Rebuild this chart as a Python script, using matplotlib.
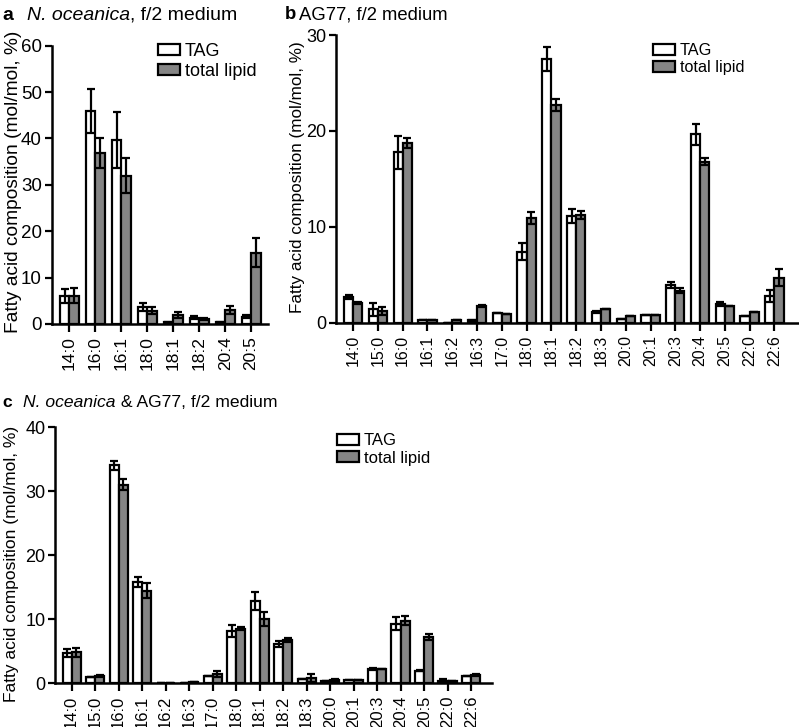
import numpy as np
import matplotlib
matplotlib.use("Agg")
import matplotlib.pyplot as plt

plt.rcParams['font.family'] = ['Liberation Sans', 'DejaVu Sans']

# panel a: N. oceanica
fa_a = ['14:0', '16:0', '16:1', '18:0', '18:1', '18:2', '20:4', '20:5']
tag_a = [6.1, 45.9, 39.7, 3.6, 0.4, 1.4, 0.4, 1.6]
tag_a_err = [1.5, 4.7, 6.0, 0.9, 0.1, 0.3, 0.1, 0.35]
tl_a = [6.1, 36.9, 32.0, 2.9, 2.0, 1.15, 3.0, 15.4]
tl_a_err = [1.6, 3.3, 3.7, 0.7, 0.65, 0.2, 0.95, 3.1]

# panel b: AG77
fa_b = ['14:0', '15:0', '16:0', '16:1', '16:2', '16:3', '17:0', '18:0', '18:1',
        '18:2', '18:3', '20:0', '20:1', '20:3', '20:4', '20:5', '22:0', '22:6']
tag_b = [2.7, 1.4, 17.75, 0.28, 0.0, 0.25, 1.0, 7.4, 27.5,
         11.1, 1.15, 0.35, 0.77, 3.9, 19.65, 1.95, 0.74, 2.8]
tag_b_err = [0.2, 0.7, 1.7, 0.0, 0.0, 0.05, 0.0, 0.9, 1.3,
             0.75, 0.1, 0.0, 0.0, 0.3, 1.1, 0.2, 0.0, 0.6]
tl_b = [2.1, 1.23, 18.75, 0.28, 0.25, 1.75, 0.95, 10.9, 22.7,
        11.25, 1.47, 0.67, 0.77, 3.35, 16.8, 1.75, 1.09, 4.7]
tl_b_err = [0.1, 0.4, 0.5, 0.0, 0.0, 0.08, 0.0, 0.6, 0.6,
            0.4, 0.0, 0.0, 0.0, 0.25, 0.4, 0.0, 0.0, 0.9]

# panel c: co-culture
fa_c = fa_b
tag_c = [4.75, 1.0, 34.05, 15.8, 0.1, 0.1, 1.1, 8.2, 12.9,
         6.15, 0.68, 0.42, 0.57, 2.24, 9.3, 1.98, 0.42, 1.2]
tag_c_err = [0.6, 0.0, 0.7, 0.8, 0.0, 0.0, 0.0, 0.9, 1.4,
             0.5, 0.0, 0.0, 0.0, 0.1, 1.0, 0.1, 0.3, 0.0]
tl_c = [4.85, 1.1, 31.05, 14.5, 0.1, 0.15, 1.4, 8.55, 10.05,
        6.75, 0.83, 0.57, 0.47, 2.2, 9.75, 7.2, 0.3, 1.3]
tl_c_err = [0.7, 0.15, 0.9, 1.15, 0.0, 0.0, 0.45, 0.25, 1.15,
            0.3, 0.6, 0.15, 0.0, 0.0, 0.7, 0.5, 0.0, 0.15]

W, H = 799, 727
fig = plt.figure(figsize=(W / 100, H / 100), dpi=100)


def px_axes(l, t, r, b):
    return fig.add_axes([l / W, 1 - b / H, (r - l) / W, (b - t) / H])


def bars(ax, labels, tag, tag_err, tl, tl_err, w, ymax, yticks, xlim, fs_x, fs_y):
    x = np.arange(len(labels))
    ek = dict(ecolor='black', elinewidth=1.6, capsize=3.2, capthick=1.6)
    ax.bar(x - w / 2, tag, w, yerr=tag_err, color='white', edgecolor='black',
           linewidth=1.6, error_kw=ek, label='TAG')
    ax.bar(x + w / 2, tl, w, yerr=tl_err, color='#858585', edgecolor='black',
           linewidth=1.6, error_kw=ek, label='total lipid')
    ax.set_xlim(*xlim)
    ax.set_ylim(0, ymax)
    ax.set_xticks(x)
    ax.set_xticklabels(labels, rotation=90, fontsize=fs_x)
    ax.set_yticks(yticks)
    ax.tick_params(axis='y', labelsize=fs_y, width=1.6, length=5, pad=2)
    ax.tick_params(axis='x', width=1.6, length=6, pad=3)
    for s in ['top', 'right']:
        ax.spines[s].set_visible(False)
    for s in ['left', 'bottom']:
        ax.spines[s].set_linewidth(1.8)
        ax.spines[s].set_clip_on(False)


def title(xl, xt, y, letter, parts, fs):
    fig.text(xl / W, 1 - y / H, letter, fontsize=fs, fontweight='bold', va='baseline')
    r = fig.canvas.get_renderer()
    xx = xt / W
    for txt, style in parts:
        t = fig.text(xx, 1 - y / H, txt, fontsize=fs, style=style, va='baseline')
        bb = t.get_window_extent(renderer=r)
        xx = bb.x1 / W


def legend(ax, xl, yt, fs):
    em = fs * 100 / 72
    ax.legend(loc='upper left', bbox_to_anchor=(xl / W, 1 - yt / H),
              bbox_transform=fig.transFigure, frameon=False, fontsize=fs,
              borderpad=0, borderaxespad=0, handlelength=22 / em,
              handleheight=11 / em, handletextpad=5 / em, labelspacing=0.15)


# a
ax_a = px_axes(51.7, 45.7, 268, 324)
bars(ax_a, fa_a, tag_a, tag_a_err, tl_a, tl_a_err, 0.365, 60,
     [0, 10, 20, 30, 40, 50, 60], (-0.68, 7.65), 12.5, 13.5)
ax_a.set_ylabel('Fatty acid composition (mol/mol, %)', fontsize=13.8)
ax_a.yaxis.set_label_coords(-0.137, 0.51)
legend(ax_a, 158, 43, 13)
title(2, 27, 20, 'a', [('N. oceanica', 'italic'), (', f/2 medium', 'normal')], 14)

# b
ax_b = px_axes(336, 35, 798, 322.7)
bars(ax_b, fa_b, tag_b, tag_b_err, tl_b, tl_b_err, 0.37, 30,
     [0, 10, 20, 30], (-0.69, 17.95), 11.5, 13)
ax_b.set_ylabel('Fatty acid composition (mol/mol, %)', fontsize=12.3)
ax_b.yaxis.set_label_coords(-0.067, 0.506)
legend(ax_b, 653, 43, 11.7)
title(285, 299, 19, 'b', [('AG77, f/2 medium', 'normal')], 13.3)

# c
ax_c = px_axes(55, 427.3, 492.3, 683.3)
bars(ax_c, fa_c, tag_c, tag_c_err, tl_c, tl_c_err, 0.39, 40,
     [0, 10, 20, 30, 40], (-0.71, 17.9), 12, 13)
ax_c.set_ylabel('Fatty acid composition (mol/mol, %)', fontsize=12.5)
ax_c.yaxis.set_label_coords(-0.082, 0.466)
legend(ax_c, 337, 433, 12)
title(2, 23, 407, 'c', [('N. oceanica', 'italic'), (' & AG77, f/2 medium', 'normal')], 12.6)

fig.savefig('out.png', dpi=100)
